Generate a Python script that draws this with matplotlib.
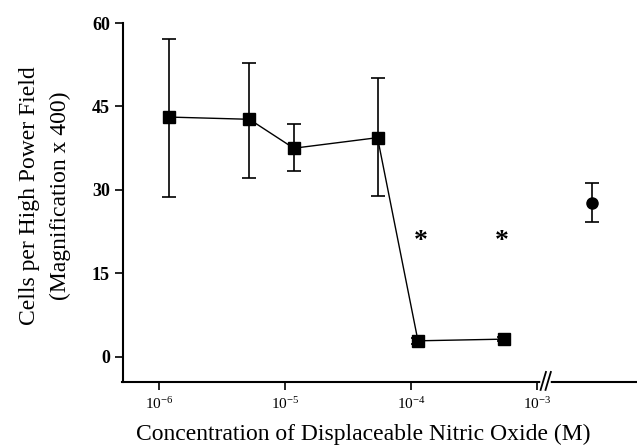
import numpy as np
import matplotlib
matplotlib.use("Agg")
import matplotlib.pyplot as plt

# Data
conc = [1.2e-6, 5.2e-6, 1.17e-5, 5.4e-5, 1.13e-4, 5.4e-4]
cells = [43.1, 42.7, 37.5, 39.4, 2.9, 3.2]
err_up = [14.0, 10.1, 4.4, 10.7, 0.5, 0.4]
err_dn = [14.4, 10.5, 4.1, 10.5, 0.5, 0.4]

ctrl_x = [2.7e-3]
ctrl_y = [27.7]
ctrl_up = [3.6]
ctrl_dn = [3.4]

star_x = [1.2e-4, 5.2e-4]
star_y = [20.7, 20.7]

yticks = [0, 15, 30, 45, 60]
xticks = [1e-6, 1e-5, 1e-4, 1e-3]
xticklabels = [r'10$^{\mathregular{-6}}$', r'10$^{\mathregular{-5}}$',
               r'10$^{\mathregular{-4}}$', r'10$^{\mathregular{-3}}$']

plt.rcParams['font.family'] = ['Liberation Serif', 'DejaVu Serif']
plt.rcParams['mathtext.fontset'] = 'stix'

fig = plt.figure(figsize=(6.37, 4.46), dpi=100)
ax = fig.add_axes([122.5/637, (446-382)/446, 1 - 122.5/637, (382-23)/446])

ax.errorbar(conc, cells, yerr=[err_dn, err_up], fmt='s-', color='black',
            ms=8, lw=1.0, elinewidth=1.2, capsize=5, capthick=1.2, zorder=3)
ax.errorbar(ctrl_x, ctrl_y, yerr=[ctrl_dn, ctrl_up], fmt='o', color='black',
            ms=8, elinewidth=1.2, capsize=5, capthick=1.2, zorder=3)
for sx, sy in zip(star_x, star_y):
    ax.text(sx, sy, '*', ha='center', va='center', fontsize=20,
            fontweight='bold', zorder=4)

ax.set_xscale('log')
ax.set_xlim(10**-6.29, 10**-2.21)
ax.set_ylim(-4.5, 60)
ax.set_yticks(yticks)
ax.set_yticklabels([str(v) for v in yticks], fontsize=13, fontweight='bold')
ax.set_xticks(xticks)
ax.set_xticklabels(xticklabels, fontsize=11)
ax.xaxis.set_minor_locator(matplotlib.ticker.NullLocator())
ax.tick_params(axis='both', direction='out', length=6, width=1.2, colors='black')
ax.tick_params(axis='y', pad=3)
ax.tick_params(axis='x', pad=4)

for s in ['top', 'right']:
    ax.spines[s].set_visible(False)
ax.spines['left'].set_linewidth(1.5)
ax.spines['bottom'].set_linewidth(1.5)
ax.spines['left'].set_bounds(-4.5, 60)

# axis break marks
bx = 1.16e-3
trans = ax.get_xaxis_transform()
ax.plot([bx * 0.955, bx * 1.045], [0, 0], color='white', lw=4, transform=trans,
        clip_on=False, zorder=5)
for f in [0.96, 1.05]:
    ax.plot([bx * f / 1.05, bx * f * 1.05], [-0.022, 0.028], color='black', lw=1.3,
            transform=trans, clip_on=False, zorder=6)

ax.set_ylabel('Cells per High Power Field\n(Magnification x 400)', fontsize=17,
              linespacing=1.55)
ax.set_xlabel('Concentration of Displaceable Nitric Oxide (M)', fontsize=17)
ax.yaxis.set_label_coords(-0.101, 0.52)
ax.xaxis.set_label_coords((363 - 122.5) / (637 - 122.5), -0.117)

fig.savefig('out.png', dpi=100)
